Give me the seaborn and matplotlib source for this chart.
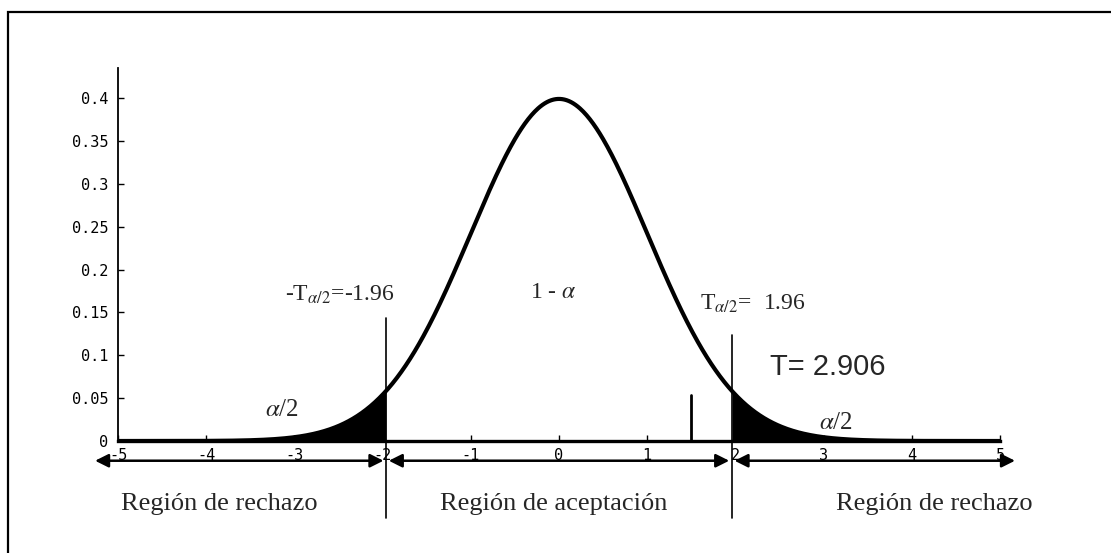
import numpy as np
import pandas as pd
import matplotlib
matplotlib.use("Agg")
import matplotlib.pyplot as plt
import matplotlib.patches as patches
import seaborn as sns

# Standard normal density and the two-sided critical values
x_min, x_max = -5.0, 5.0
t_crit = 1.96
t_stat = 2.906
marker_x = 1.5
x_ticks = [-5, -4, -3, -2, -1, 0, 1, 2, 3, 4, 5]
y_ticks = [0, 0.05, 0.1, 0.15, 0.2, 0.25, 0.3, 0.35, 0.4]
y_tick_labels = ["0", "0.05", "0.1", "0.15", "0.2", "0.25", "0.3", "0.35", "0.4"]
region_labels = ["Región de rechazo", "Región de aceptación", "Región de rechazo"]

xs = np.linspace(x_min, x_max, 801)
pdf = np.exp(-xs ** 2 / 2) / np.sqrt(2 * np.pi)
df = pd.DataFrame({"t": xs, "densidad": pdf})

sns.set_theme(style="white")
plt.rcParams["mathtext.fontset"] = "stix"

fig = plt.figure(figsize=(11.11, 5.53), dpi=100)
W, H = 1111, 553
ax = fig.add_axes([118 / W, 1 - 441 / H, 882 / W, 373 / H])

sns.lineplot(data=df, x="t", y="densidad", ax=ax, color="black", lw=3.0)

# Shaded rejection tails
left = xs <= -t_crit
right = xs >= t_crit
ax.fill_between(xs[left], 0, pdf[left], color="black", lw=0)
ax.fill_between(xs[right], 0, pdf[right], color="black", lw=0)

ax.set_xlim(x_min, x_max)
ax.set_ylim(0, 0.435)
ax.set_xlabel("")
ax.set_ylabel("")

for side in ["top", "right"]:
    ax.spines[side].set_visible(False)
ax.spines["left"].set_color("black")
ax.spines["left"].set_linewidth(1.3)
ax.spines["bottom"].set_color("black")
ax.spines["bottom"].set_linewidth(2.4)

tick_font = "DejaVu Sans Mono"
ax.set_yticks(y_ticks)
ax.set_yticklabels(y_tick_labels, fontsize=11, family=tick_font)
ax.set_xticks(x_ticks)
ax.set_xticklabels([str(v) for v in x_ticks], fontsize=11, family=tick_font)
ax.tick_params(axis="both", direction="in", length=4, width=1, colors="black",
               left=True, bottom=True)
ax.tick_params(axis="x", pad=5)
ax.tick_params(axis="y", pad=7)

# Critical value lines extending below the axis
ax.plot([-t_crit, -t_crit], [-0.09, 0.143], color="black", lw=1.2, clip_on=False)
ax.plot([t_crit, t_crit], [-0.09, 0.124], color="black", lw=1.2, clip_on=False)
ax.plot([marker_x, marker_x], [0, 0.054], color="black", lw=2.0)

# Region arrows under the axis
arrow_y = -0.023
arrow_kw = dict(arrowstyle="<|-|>", color="black", lw=1.8, mutation_scale=20,
                shrinkA=0, shrinkB=0)
for x0, x1 in [(-5.26, -1.99), (-1.93, 1.93), (1.99, 5.17)]:
    ax.annotate("", xy=(x1, arrow_y), xytext=(x0, arrow_y),
                arrowprops=arrow_kw, annotation_clip=False)

serif = "Liberation Serif"
region_y = -0.074
ax.text(-3.85, region_y, region_labels[0], ha="center", va="center",
        fontsize=19, family=serif, clip_on=False)
ax.text(-0.06, region_y, region_labels[1], ha="center", va="center",
        fontsize=19, family=serif, clip_on=False)
ax.text(4.25, region_y, region_labels[2], ha="center", va="center",
        fontsize=19, family=serif, clip_on=False)

ax.text(-2.48, 0.171, r"-T$_{\alpha/2}$=-1.96", ha="center", va="center",
        fontsize=17, family=serif)
ax.text(-0.06, 0.173, r"1 - $\alpha$", ha="center", va="center",
        fontsize=17, family=serif)
ax.text(1.6, 0.160, r"T$_{\alpha/2}$=  1.96", ha="left", va="center",
        fontsize=17, family=serif)
ax.text(2.39, 0.086, "T= 2.906", ha="left", va="center",
        fontsize=21, family="Liberation Sans")
ax.text(-3.14, 0.036, r"$\alpha$/2", ha="center", va="center",
        fontsize=18, family=serif)
ax.text(3.14, 0.021, r"$\alpha$/2", ha="center", va="center",
        fontsize=18, family=serif)

# Outer frame
fig.patches.append(patches.Rectangle((8 / W, -0.2), 2.0, 1.2 - 12 / H,
                                     transform=fig.transFigure, fill=False,
                                     edgecolor="black", lw=1.6))

fig.savefig("out.png", dpi=100, facecolor="white")
